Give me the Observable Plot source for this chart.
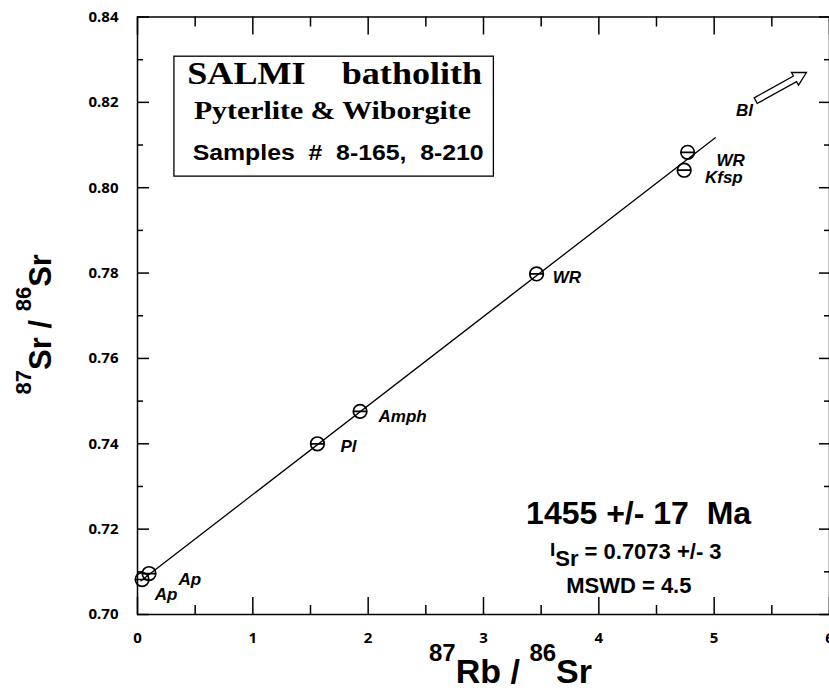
<!DOCTYPE html>
<html><head><meta charset="utf-8">
<script src="https://cdn.jsdelivr.net/npm/d3@7"></script>
<script src="https://cdn.jsdelivr.net/npm/@observablehq/plot@0.6"></script>
<style>body{margin:0;background:#fff} #chart{position:relative;width:829px;height:694px} #chart svg{position:absolute;left:0;top:0}</style>
</head><body><div id="chart"></div>
<script>
// ---- data ----
const xMajor = [0, 1, 2, 3, 4, 5, 6];
const xMinor = [0.5, 1.5, 2.5, 3.5, 4.5, 5.5];
const yMajor = [0.70, 0.72, 0.74, 0.76, 0.78, 0.80, 0.82, 0.84];
const yMinor = [0.71, 0.73, 0.75, 0.77, 0.79, 0.81, 0.83];

const sampleNames = ["Ap", "Ap", "Pl", "Amph", "WR", "Kfsp", "WR"];
const rbSr = [0.04, 0.10, 1.56, 1.93, 3.46, 4.74, 4.77];
const srSr = [0.7082, 0.7096, 0.7400, 0.7476, 0.7798, 0.8041, 0.8083];

const labelText = ["Ap", "Ap", "Pl", "Amph", "WR", "Kfsp", "WR", "Bl"];
const labelX = [0.15, 0.355, 1.76, 2.09, 3.60, 4.92, 5.02, 5.19];
const labelY = [0.7033, 0.7068, 0.7380, 0.7450, 0.7776, 0.8012, 0.8052, 0.8169];

const isoX = [0.03, 5.01];
const isoY = [0.7079, 0.8117];

const arrowX = [5.58];
const arrowY = [0.8237];

const boxX = [0.32, 3.09];
const boxY = [0.8026, 0.8307];
const boxLines = ["SALMI    batholith", "Pyterlite & Wiborgite", "Samples  #  8-165,  8-210"];
const boxLineX = [1.71, 1.69, 1.74];
const boxLineY = [0.8242, 0.8162, 0.8066];

const resultLines = ["1455 +/- 17  Ma", "ISr = 0.7073 +/- 3", "MSWD = 4.5"];
const resultX = [4.345, 4.32, 4.26];
const resultY = [0.7211, 0.7130, 0.7051];

// ---- build ----
const sans = "'Liberation Sans', Arial, sans-serif";
const serif = "'Liberation Serif', 'Times New Roman', serif";

const W = 829, H = 694, ML = 137, MR = 0, MT = 16.5, MB = 80;
const xDomain = [0, 6], yDomain = [0.70, 0.84];
const frameW = W - ML - MR, frameH = H - MT - MB;
const layout = {width: W, height: H, marginLeft: ML, marginRight: MR, marginTop: MT, marginBottom: MB,
  x: {domain: xDomain}, y: {domain: yDomain}};

const points = sampleNames.map((s, i) => ({s, x: rbSr[i], y: srSr[i]}));
const labels = labelText.map((t, i) => ({t, x: labelX[i], y: labelY[i]}));
const iso = isoX.map((x, i) => ({x, y: isoY[i]}));
const arrow = arrowX.map((x, i) => ({x, y: arrowY[i]}));
const box = [{x1: boxX[0], x2: boxX[1], y1: boxY[0], y2: boxY[1]}];
const bl = boxLines.map((t, i) => ({t, x: boxLineX[i], y: boxLineY[i], i}));
const res = resultLines.map((t, i) => ({t, x: resultX[i], y: resultY[i], i}));

const circleBar = {
  draw(ctx, size) {
    const r = Math.sqrt(size / Math.PI);
    ctx.moveTo(r, 0);
    ctx.arc(0, 0, r, 0, 2 * Math.PI);
    ctx.moveTo(-r, 0);
    ctx.lineTo(r, 0);
  }
};
const hollowArrow = {
  draw(ctx, size) {
    const s = Math.sqrt(size / Math.PI);
    const hl = 0.45 * s, hw = 0.25 * s, sw = 0.11 * s;
    ctx.moveTo(-s, -sw);
    ctx.lineTo(s - hl, -sw);
    ctx.lineTo(s - hl, -hw);
    ctx.lineTo(s, 0);
    ctx.lineTo(s - hl, hw);
    ctx.lineTo(s - hl, sw);
    ctx.lineTo(-s, sw);
    ctx.closePath();
  }
};

// main chart
const plot = Plot.plot({
  ...layout,
  style: {background: "white", color: "black"},
  marks: [
    Plot.axisX({anchor: "bottom", ticks: xMajor, tickSize: 0, tickPadding: 18, tickFormat: d => String(d), label: null,
      fontSize: 15, fontWeight: "bold"}),
    Plot.axisY({anchor: "left", ticks: yMajor, tickSize: 0, tickPadding: 19, tickFormat: d => d.toFixed(2), label: null,
      fontSize: 15, fontWeight: "bold"}),
    Plot.line(iso, {x: "x", y: "y", stroke: "black", strokeWidth: 1.3}),
    Plot.dot(points, {x: "x", y: "y", symbol: circleBar, r: 6.8, stroke: "black", strokeWidth: 1.7, fill: "none"}),
    Plot.text(labels, {x: "x", y: "y", text: "t", textAnchor: "start", lineAnchor: "bottom",
      fontSize: 17, fontWeight: "bold", fontStyle: "italic", fontFamily: sans, fill: "black"}),
    Plot.dot(arrow, {x: "x", y: "y", symbol: hollowArrow, r: 29, rotate: -29, fill: "white", stroke: "black", strokeWidth: 1.3}),
    Plot.rect(box, {x1: "x1", x2: "x2", y1: "y1", y2: "y2", fill: "white", stroke: "black", strokeWidth: 1.3}),
    Plot.text(bl.filter(d => d.i === 0), {x: "x", y: "y", text: "t", lineAnchor: "bottom", fontSize: 31, fontWeight: "bold", fontFamily: serif, fill: "black"}),
    Plot.text(bl.filter(d => d.i === 1), {x: "x", y: "y", text: "t", lineAnchor: "bottom", fontSize: 25, fontWeight: "bold", fontFamily: serif, fill: "black"}),
    Plot.text(bl.filter(d => d.i === 2), {x: "x", y: "y", text: "t", lineAnchor: "bottom", fontSize: 22, fontWeight: "bold", fontFamily: sans, fill: "black"}),
    Plot.text(res.filter(d => d.i === 0), {x: "x", y: "y", text: "t", lineAnchor: "bottom", fontSize: 32, fontWeight: "bold", fontFamily: sans, fill: "black"}),
    Plot.text(res.filter(d => d.i > 0), {x: "x", y: "y", text: "t", lineAnchor: "bottom", fontSize: 22, fontWeight: "bold", fontFamily: sans, fill: "black"}),
    Plot.text(["87Rb / 86Sr"], {frameAnchor: "bottom", textAnchor: "middle", dx: 27, dy: 68, lineAnchor: "bottom", fontSize: 34, fontWeight: "bold", fontFamily: sans, fill: "black"}),
    Plot.text(["87Sr / 86Sr"], {frameAnchor: "left", textAnchor: "middle", dx: -87, dy: 8.5, rotate: -90, lineAnchor: "bottom", fontSize: 31, fontWeight: "bold", fontFamily: sans, fill: "black"})
  ]
});

// frame and inward ticks, in an overlay with the same scales
const tk = {stroke: "black", strokeWidth: 1.5};
const overlay = Plot.plot({
  ...layout,
  axis: null,
  style: {background: "transparent", color: "black"},
  marks: [
    Plot.frame({stroke: "black", strokeWidth: 1.5}),
    Plot.ruleX(xMajor, {x: d => d, insetTop: frameH - 17, ...tk}),
    Plot.ruleX(xMinor, {x: d => d, insetTop: frameH - 9, ...tk}),
    Plot.ruleX(xMajor, {x: d => d, insetBottom: frameH - 18, ...tk}),
    Plot.ruleX(xMinor, {x: d => d, insetBottom: frameH - 10, ...tk}),
    Plot.ruleY(yMajor, {y: d => d, insetRight: frameW - 12, ...tk}),
    Plot.ruleY(yMinor, {y: d => d, insetRight: frameW - 6, ...tk}),
    Plot.ruleY(yMajor, {y: d => d, insetLeft: frameW - 10, ...tk}),
    Plot.ruleY(yMinor, {y: d => d, insetLeft: frameW - 5, ...tk})
  ]
});

const host = document.getElementById("chart");
host.append(plot);
host.append(overlay);

// rich text: superscripts / subscripts
function rich(plain, parts) {
  const el = Array.from(plot.querySelectorAll("text")).find(t => t.textContent === plain);
  if (!el) return;
  el.textContent = "";
  for (const p of parts) {
    const ts = document.createElementNS("http://www.w3.org/2000/svg", "tspan");
    ts.textContent = p.t;
    if (p.size) ts.setAttribute("font-size", p.size);
    if (p.dy) ts.setAttribute("dy", p.dy);
    el.appendChild(ts);
  }
}
rich("87Rb / 86Sr", [{t: "87", size: 24, dy: -22}, {t: "Rb / ", dy: 22}, {t: "86", size: 24, dy: -22}, {t: "Sr", dy: 22}]);
rich("87Sr / 86Sr", [{t: "87", size: 22, dy: -20}, {t: "Sr / ", dy: 20}, {t: "86", size: 22, dy: -20}, {t: "Sr", dy: 20}]);
rich("ISr = 0.7073 +/- 3", [{t: "I", size: 19, dy: -3}, {t: "Sr", dy: 10}, {t: " = 0.7073 +/- 3", dy: -7}]);

// stretch the box lines to the reference's widths
const boxWidths = [295, 277, 291];
boxLines.forEach((s, i) => {
  const el = Array.from(plot.querySelectorAll("text")).find(t => t.textContent === s);
  if (el) { el.setAttribute("textLength", boxWidths[i]); el.setAttribute("lengthAdjust", "spacingAndGlyphs"); }
});
</script>
</body></html>
